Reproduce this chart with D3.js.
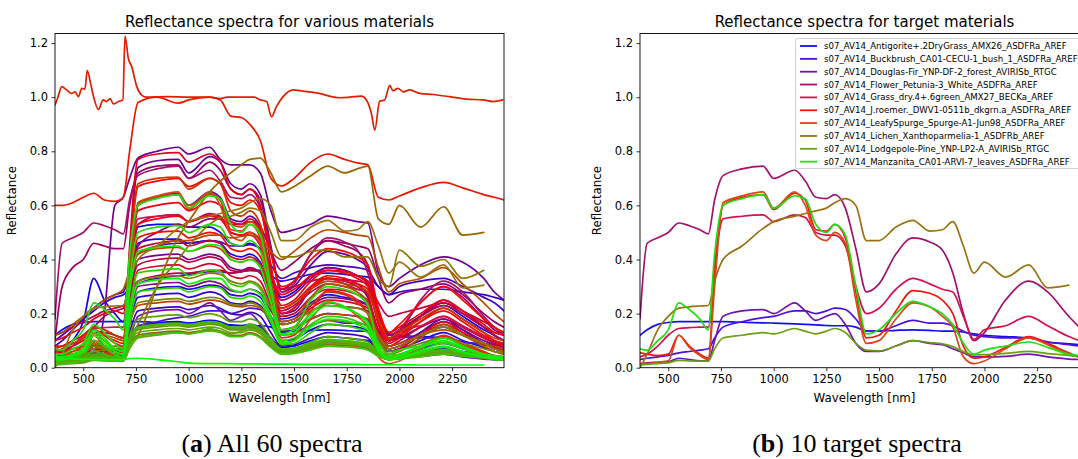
<!DOCTYPE html>
<html><head><meta charset="utf-8">
<script src="https://cdn.jsdelivr.net/npm/d3@7"></script>
<style>
body{margin:0;background:#fff;}
svg text{font-family:"DejaVu Sans",sans-serif;fill:#000;}
</style></head><body>
<svg id="c" width="1078" height="459"></svg>
<script>
// ---------- data ----------
const wavelengths = [366,400,450,500,550,600,650,690,720,760,850,950,1000,1100,1150,1200,1250,1290,1340,1390,1440,1500,1580,1660,1740,1800,1850,1900,1950,2000,2100,2210,2300,2400,2450,2496];
const xTicks = [500,750,1000,1250,1500,1750,2000,2250];
const yTicks = [0,0.2,0.4,0.6,0.8,1.0,1.2];

const targetNames = [
 "s07_AV14_Antigorite+.2DryGrass_AMX26_ASDFRa_AREF",
 "s07_AV14_Buckbrush_CA01-CECU-1_bush_1_ASDFRa_AREF",
 "s07_AV14_Douglas-Fir_YNP-DF-2_forest_AVIRISb_RTGC",
 "s07_AV14_Flower_Petunia-3_White_ASDFRa_AREF",
 "s07_AV14_Grass_dry.4+.6green_AMX27_BECKa_AREF",
 "s07_AV14_J.roemer._DWV1-0511b_dkgrn.a_ASDFRa_AREF",
 "s07_AV14_LeafySpurge_Spurge-A1-Jun98_ASDFRa_AREF",
 "s07_AV14_Lichen_Xanthoparmelia-1_ASDFRb_AREF",
 "s07_AV14_Lodgepole-Pine_YNP-LP2-A_AVIRISb_RTGC",
 "s07_AV14_Manzanita_CA01-ARVI-7_leaves_ASDFRa_AREF"
];
const targetIndex = [1,9,15,19,24,29,34,42,47,56];
const targetColors = ["#1010f2","#4a10e0","#7212b0","#a0126e","#d3124a","#f81212","#d8481a","#9a7212","#6ca014","#22dd12"];
const targetReflectance = [
 [0.12,0.14,0.16,0.167,0.17,0.17,0.17,0.17,0.17,0.17,0.168,0.166,0.165,0.162,0.16,0.158,0.156,0.155,0.155,0.15,0.135,0.135,0.138,0.14,0.138,0.135,0.135,0.132,0.125,0.12,0.115,0.11,0.095,0.088,0.085,0.08],
 [0.03,0.035,0.04,0.045,0.055,0.06,0.065,0.07,0.11,0.15,0.17,0.185,0.19,0.21,0.21,0.2,0.21,0.22,0.215,0.18,0.135,0.135,0.155,0.175,0.165,0.165,0.155,0.135,0.12,0.115,0.11,0.11,0.095,0.085,0.08,0.078],
 [0.015,0.018,0.02,0.022,0.035,0.03,0.025,0.025,0.1,0.19,0.21,0.215,0.2,0.24,0.21,0.175,0.19,0.2,0.16,0.09,0.06,0.06,0.08,0.1,0.09,0.085,0.07,0.055,0.04,0.04,0.042,0.05,0.04,0.032,0.03,0.028],
 [0.18,0.46,0.48,0.5,0.535,0.525,0.51,0.495,0.62,0.71,0.735,0.745,0.7,0.73,0.69,0.63,0.625,0.64,0.59,0.44,0.28,0.31,0.42,0.48,0.465,0.435,0.35,0.2,0.1,0.13,0.25,0.32,0.28,0.19,0.15,0.12],
 [0.04,0.05,0.08,0.12,0.145,0.148,0.15,0.15,0.38,0.55,0.56,0.565,0.54,0.565,0.555,0.5,0.49,0.49,0.45,0.3,0.2,0.22,0.29,0.33,0.31,0.29,0.28,0.19,0.105,0.14,0.155,0.19,0.155,0.115,0.1,0.09],
 [0.055,0.05,0.045,0.05,0.12,0.08,0.05,0.035,0.35,0.6,0.63,0.64,0.585,0.645,0.62,0.51,0.505,0.53,0.48,0.28,0.11,0.12,0.21,0.285,0.275,0.25,0.2,0.08,0.035,0.04,0.075,0.115,0.09,0.055,0.04,0.035],
 [0.015,0.015,0.02,0.025,0.12,0.075,0.045,0.03,0.3,0.61,0.635,0.65,0.59,0.65,0.6,0.49,0.47,0.5,0.46,0.25,0.09,0.1,0.18,0.24,0.225,0.19,0.15,0.04,0.015,0.025,0.07,0.11,0.085,0.05,0.04,0.035],
 [0.0,0.05,0.14,0.19,0.22,0.225,0.228,0.23,0.32,0.4,0.45,0.515,0.54,0.56,0.57,0.58,0.59,0.61,0.625,0.6,0.47,0.47,0.52,0.545,0.505,0.51,0.54,0.45,0.35,0.39,0.335,0.38,0.295,0.305,null,null],
 [0.01,0.012,0.015,0.018,0.027,0.025,0.024,0.024,0.07,0.11,0.12,0.13,0.125,0.145,0.135,0.125,0.135,0.145,0.13,0.09,0.065,0.062,0.08,0.1,0.093,0.088,0.078,0.06,0.047,0.048,0.053,0.06,0.052,0.045,0.04,0.038],
 [0.07,0.065,0.1,0.14,0.24,0.215,0.18,0.14,0.42,0.6,0.625,0.64,0.59,0.635,0.625,0.53,0.5,0.53,0.49,0.3,0.125,0.14,0.2,0.245,0.225,0.2,0.16,0.09,0.05,0.065,0.08,0.095,0.075,0.05,0.045,0.04]
];

// the remaining library spectra (left panel only)
const otherIndex = [0,2,3,4,5,6,7,8,10,11,12,13,14,16,17,18,20,21,22,23,25,26,27,28,30,31,32,35,36,37,38,39,40,41,43,44,45,46,48,49,50,51,52,53,54,55,57,58,59];
const otherReflectance = [
 [0.03,0.03,0.035,0.04,0.05,0.045,0.04,0.04,0.1,0.155,0.165,0.17,0.165,0.175,0.17,0.155,0.155,0.16,0.15,0.11,0.075,0.08,0.1,0.115,0.11,0.105,0.1,0.06,0.04,0.045,0.06,0.075,0.06,0.05,0.045,0.04],
 [0.05,0.06,0.1,0.17,0.33,0.25,0.2,0.17,0.35,0.52,0.53,0.53,0.52,0.52,0.5,0.46,0.45,0.46,0.44,0.34,0.26,0.28,0.34,0.37,0.36,0.34,0.32,0.2,0.12,0.14,0.19,0.23,0.19,0.14,0.12,0.1],
 [0.04,0.04,0.05,0.06,0.08,0.07,0.06,0.06,0.28,0.46,0.475,0.475,0.46,0.47,0.46,0.42,0.41,0.42,0.39,0.27,0.18,0.19,0.24,0.27,0.26,0.25,0.23,0.12,0.07,0.08,0.12,0.15,0.12,0.09,0.07,0.06],
 [0.02,0.025,0.03,0.035,0.06,0.05,0.04,0.04,0.17,0.28,0.295,0.3,0.29,0.305,0.3,0.27,0.265,0.275,0.26,0.19,0.13,0.14,0.18,0.2,0.195,0.19,0.175,0.1,0.06,0.07,0.1,0.13,0.1,0.075,0.06,0.055],
 [0.02,0.02,0.025,0.03,0.05,0.04,0.03,0.03,0.16,0.26,0.27,0.275,0.26,0.28,0.27,0.24,0.235,0.245,0.23,0.16,0.1,0.105,0.14,0.16,0.155,0.15,0.135,0.07,0.04,0.045,0.07,0.09,0.07,0.05,0.04,0.035],
 [0.1,0.12,0.15,0.18,0.21,0.24,0.26,0.27,0.29,0.31,0.33,0.34,0.345,0.355,0.355,0.35,0.355,0.36,0.36,0.34,0.32,0.33,0.345,0.35,0.345,0.34,0.335,0.3,0.27,0.28,0.29,0.29,0.28,0.27,0.26,0.25],
 [0.02,0.02,0.025,0.03,0.045,0.04,0.03,0.03,0.13,0.21,0.22,0.225,0.215,0.23,0.22,0.2,0.195,0.205,0.19,0.13,0.08,0.085,0.11,0.13,0.125,0.12,0.11,0.06,0.035,0.04,0.055,0.07,0.055,0.04,0.035,0.03],
 [0.08,0.1,0.14,0.18,0.22,0.25,0.27,0.28,0.35,0.42,0.45,0.46,0.46,0.47,0.465,0.45,0.45,0.455,0.44,0.38,0.33,0.35,0.37,0.38,0.375,0.37,0.36,0.3,0.27,0.3,0.32,0.33,0.3,0.26,0.24,0.21],
 [0.015,0.015,0.02,0.022,0.035,0.03,0.025,0.025,0.1,0.15,0.16,0.165,0.155,0.17,0.16,0.145,0.145,0.155,0.14,0.09,0.055,0.058,0.075,0.09,0.088,0.083,0.075,0.045,0.03,0.035,0.042,0.05,0.042,0.035,0.03,0.028],
 [0.02,0.02,0.025,0.03,0.06,0.045,0.03,0.03,0.3,0.6,0.63,0.645,0.6,0.65,0.63,0.55,0.54,0.56,0.52,0.35,0.2,0.21,0.29,0.33,0.32,0.3,0.26,0.12,0.06,0.07,0.13,0.18,0.14,0.09,0.07,0.06],
 [0.03,0.03,0.035,0.04,0.08,0.06,0.04,0.05,0.42,0.74,0.765,0.77,0.72,0.78,0.76,0.68,0.66,0.68,0.64,0.45,0.28,0.3,0.38,0.43,0.42,0.4,0.37,0.2,0.1,0.12,0.19,0.25,0.21,0.15,0.12,0.1],
 [0.02,0.02,0.025,0.03,0.05,0.2,0.6,0.63,0.7,0.775,0.8,0.815,0.79,0.815,0.77,0.75,0.75,0.75,0.72,0.58,0.5,0.51,0.53,0.56,0.55,0.54,0.535,0.35,0.3,0.33,0.38,0.41,0.39,0.33,0.28,0.25],
 [0.03,0.03,0.04,0.05,0.08,0.07,0.05,0.05,0.24,0.4,0.415,0.42,0.4,0.42,0.41,0.37,0.36,0.37,0.35,0.25,0.17,0.18,0.23,0.26,0.255,0.245,0.23,0.13,0.08,0.09,0.13,0.17,0.14,0.1,0.085,0.075],
 [0.02,0.02,0.03,0.04,0.07,0.06,0.04,0.04,0.18,0.3,0.31,0.315,0.3,0.32,0.31,0.285,0.28,0.29,0.275,0.21,0.16,0.17,0.21,0.23,0.225,0.22,0.21,0.14,0.1,0.11,0.15,0.18,0.15,0.11,0.095,0.085],
 [0.05,0.06,0.08,0.11,0.15,0.19,0.21,0.22,0.33,0.45,0.5,0.53,0.52,0.55,0.55,0.53,0.53,0.54,0.52,0.43,0.36,0.39,0.44,0.47,0.46,0.45,0.44,0.33,0.24,0.27,0.29,0.31,0.27,0.2,0.17,0.15],
 [0.1,0.3,0.37,0.4,0.46,0.45,0.44,0.44,0.6,0.72,0.745,0.75,0.7,0.76,0.73,0.66,0.64,0.66,0.62,0.44,0.29,0.32,0.42,0.47,0.45,0.43,0.38,0.2,0.1,0.14,0.24,0.3,0.26,0.18,0.14,0.12],
 [0.03,0.03,0.04,0.05,0.09,0.07,0.05,0.05,0.3,0.53,0.56,0.565,0.54,0.57,0.56,0.5,0.49,0.5,0.47,0.35,0.25,0.27,0.33,0.37,0.36,0.34,0.31,0.18,0.11,0.13,0.19,0.24,0.2,0.15,0.12,0.1],
 [0.05,0.06,0.08,0.1,0.13,0.13,0.12,0.11,0.27,0.38,0.4,0.405,0.39,0.41,0.4,0.36,0.355,0.365,0.35,0.27,0.21,0.23,0.28,0.31,0.3,0.29,0.275,0.18,0.12,0.14,0.19,0.23,0.2,0.15,0.13,0.12],
 [0.12,0.13,0.15,0.17,0.19,0.21,0.22,0.23,0.28,0.32,0.34,0.35,0.35,0.36,0.36,0.35,0.355,0.36,0.355,0.32,0.29,0.3,0.32,0.33,0.325,0.32,0.31,0.24,0.19,0.2,0.22,0.24,0.21,0.17,0.15,0.13],
 [0.04,0.04,0.05,0.06,0.1,0.08,0.06,0.05,0.25,0.44,0.46,0.47,0.45,0.47,0.46,0.41,0.4,0.41,0.38,0.27,0.19,0.2,0.26,0.29,0.285,0.27,0.25,0.14,0.08,0.1,0.15,0.19,0.15,0.11,0.09,0.08],
 [0.03,0.03,0.04,0.05,0.09,0.07,0.05,0.05,0.22,0.36,0.375,0.38,0.365,0.385,0.375,0.34,0.33,0.34,0.32,0.23,0.16,0.17,0.22,0.25,0.245,0.235,0.22,0.12,0.07,0.08,0.12,0.16,0.13,0.09,0.075,0.065],
 [0.04,0.04,0.045,0.05,0.1,0.07,0.05,0.06,0.45,0.77,0.79,0.795,0.76,0.79,0.76,0.66,0.64,0.66,0.6,0.38,0.2,0.22,0.3,0.34,0.33,0.31,0.27,0.12,0.05,0.07,0.12,0.17,0.13,0.08,0.06,0.05],
 [0.07,0.08,0.1,0.12,0.15,0.14,0.12,0.11,0.38,0.58,0.6,0.61,0.58,0.615,0.6,0.54,0.53,0.55,0.51,0.36,0.23,0.25,0.32,0.36,0.35,0.33,0.3,0.16,0.09,0.11,0.17,0.22,0.18,0.13,0.1,0.09],
 [0.1,0.11,0.13,0.15,0.18,0.2,0.21,0.2,0.4,0.53,0.55,0.56,0.54,0.56,0.55,0.5,0.49,0.5,0.47,0.35,0.27,0.29,0.34,0.36,0.355,0.34,0.32,0.2,0.13,0.15,0.2,0.25,0.21,0.16,0.13,0.12],
 [0.06,0.06,0.07,0.08,0.14,0.12,0.09,0.08,0.4,0.67,0.69,0.7,0.67,0.7,0.68,0.61,0.6,0.62,0.58,0.42,0.3,0.32,0.4,0.44,0.43,0.41,0.38,0.22,0.13,0.16,0.24,0.3,0.25,0.18,0.15,0.13],
 [0.08,0.08,0.09,0.1,0.14,0.12,0.1,0.09,0.3,0.48,0.5,0.505,0.48,0.5,0.49,0.44,0.43,0.44,0.41,0.3,0.22,0.24,0.3,0.33,0.32,0.31,0.29,0.17,0.1,0.12,0.17,0.21,0.17,0.12,0.1,0.08],
 [0.6,0.6,0.61,0.63,0.645,0.62,0.615,0.63,0.8,0.98,1.0,0.978,0.99,1.0,0.99,0.93,0.925,0.9,0.84,0.7,0.672,0.7,0.76,0.79,0.77,0.757,0.75,0.63,0.62,0.635,0.665,0.685,0.665,0.64,0.63,0.62],
 [0.03,0.03,0.035,0.04,0.09,0.06,0.04,0.04,0.4,0.68,0.7,0.705,0.66,0.7,0.68,0.58,0.56,0.58,0.53,0.32,0.14,0.15,0.23,0.28,0.27,0.24,0.2,0.07,0.03,0.04,0.08,0.12,0.09,0.06,0.045,0.04],
 [0.06,0.07,0.09,0.11,0.15,0.14,0.12,0.11,0.3,0.42,0.44,0.445,0.43,0.45,0.44,0.4,0.39,0.4,0.38,0.29,0.22,0.24,0.29,0.32,0.31,0.3,0.28,0.18,0.11,0.13,0.18,0.22,0.18,0.13,0.11,0.1],
 [0.04,0.045,0.06,0.08,0.12,0.12,0.11,0.1,0.17,0.23,0.24,0.245,0.235,0.25,0.245,0.23,0.225,0.23,0.22,0.18,0.14,0.15,0.18,0.2,0.195,0.19,0.18,0.12,0.08,0.09,0.12,0.14,0.12,0.09,0.08,0.07],
 [0.12,0.13,0.16,0.19,0.22,0.25,0.27,0.29,0.36,0.42,0.45,0.47,0.47,0.49,0.49,0.48,0.485,0.49,0.48,0.43,0.4,0.43,0.48,0.51,0.5,0.49,0.485,0.37,0.28,0.31,0.33,0.37,0.31,0.24,0.2,0.17],
 [0.05,0.05,0.06,0.07,0.13,0.1,0.07,0.06,0.35,0.61,0.63,0.64,0.6,0.64,0.62,0.53,0.52,0.54,0.5,0.32,0.17,0.18,0.26,0.31,0.3,0.28,0.24,0.1,0.05,0.06,0.11,0.16,0.12,0.08,0.06,0.05],
 [0.02,0.02,0.025,0.03,0.04,0.038,0.034,0.034,0.09,0.12,0.13,0.135,0.13,0.14,0.135,0.12,0.12,0.13,0.115,0.08,0.055,0.057,0.072,0.085,0.082,0.078,0.072,0.046,0.032,0.035,0.044,0.053,0.046,0.038,0.034,0.031],
 [0.03,0.04,0.05,0.06,0.07,0.075,0.08,0.08,0.09,0.12,0.3,0.48,0.54,0.65,0.69,0.72,0.75,0.77,0.775,0.72,0.65,0.67,0.71,0.745,0.72,0.735,0.745,0.55,0.53,0.6,0.52,0.595,0.49,0.5,null,null],
 [0.02,0.03,0.04,0.05,0.06,0.065,0.07,0.075,0.1,0.16,0.3,0.4,0.45,0.53,0.555,0.56,0.575,0.59,0.58,0.5,0.41,0.41,0.43,0.435,0.41,0.41,0.41,0.33,0.3,0.435,0.375,0.4,0.33,0.36,null,null],
 [0.03,0.03,0.04,0.05,0.08,0.07,0.05,0.05,0.2,0.32,0.335,0.34,0.33,0.35,0.345,0.32,0.31,0.32,0.3,0.22,0.16,0.17,0.21,0.23,0.225,0.22,0.2,0.12,0.07,0.08,0.12,0.15,0.12,0.09,0.07,0.06],
 [0.03,0.035,0.045,0.06,0.09,0.08,0.07,0.065,0.16,0.24,0.25,0.255,0.245,0.26,0.255,0.235,0.23,0.24,0.225,0.17,0.12,0.125,0.155,0.175,0.17,0.165,0.155,0.1,0.06,0.065,0.09,0.11,0.09,0.07,0.06,0.055],
 [0.02,0.02,0.025,0.03,0.04,0.035,0.03,0.03,0.1,0.14,0.15,0.155,0.15,0.16,0.155,0.14,0.14,0.15,0.135,0.09,0.06,0.062,0.08,0.095,0.092,0.088,0.08,0.05,0.035,0.038,0.048,0.058,0.05,0.04,0.036,0.033],
 [0.02,0.02,0.025,0.03,0.045,0.04,0.03,0.03,0.12,0.18,0.19,0.195,0.185,0.2,0.19,0.17,0.17,0.18,0.165,0.11,0.07,0.072,0.095,0.115,0.11,0.105,0.095,0.055,0.035,0.04,0.05,0.065,0.055,0.045,0.04,0.035],
 [0.015,0.015,0.02,0.025,0.035,0.03,0.025,0.025,0.09,0.13,0.14,0.145,0.14,0.15,0.145,0.13,0.13,0.14,0.125,0.085,0.055,0.057,0.075,0.09,0.087,0.083,0.075,0.047,0.032,0.035,0.045,0.055,0.047,0.038,0.034,0.031],
 [0.025,0.025,0.03,0.035,0.05,0.045,0.035,0.035,0.1,0.145,0.155,0.16,0.155,0.165,0.16,0.145,0.145,0.155,0.14,0.095,0.065,0.067,0.085,0.1,0.097,0.093,0.085,0.055,0.038,0.042,0.052,0.062,0.054,0.044,0.04,0.036],
 [0.03,0.03,0.035,0.04,0.06,0.05,0.04,0.04,0.11,0.15,0.16,0.165,0.16,0.17,0.165,0.15,0.15,0.16,0.145,0.1,0.07,0.072,0.09,0.105,0.1,0.096,0.088,0.058,0.04,0.044,0.055,0.066,0.057,0.047,0.042,0.038],
 [0.015,0.015,0.02,0.025,0.04,0.035,0.025,0.025,0.08,0.115,0.125,0.13,0.125,0.135,0.13,0.115,0.115,0.125,0.11,0.075,0.05,0.052,0.066,0.08,0.077,0.073,0.066,0.042,0.03,0.032,0.04,0.05,0.043,0.035,0.031,0.028],
 [0.04,0.04,0.05,0.07,0.13,0.1,0.07,0.06,0.22,0.35,0.36,0.365,0.34,0.36,0.355,0.31,0.3,0.315,0.29,0.19,0.1,0.11,0.16,0.19,0.185,0.17,0.15,0.07,0.035,0.04,0.065,0.09,0.07,0.045,0.04,0.035],
 [0.03,0.03,0.04,0.05,0.1,0.08,0.05,0.04,0.17,0.28,0.29,0.295,0.28,0.3,0.295,0.26,0.255,0.265,0.245,0.17,0.085,0.09,0.13,0.16,0.155,0.145,0.13,0.06,0.03,0.035,0.055,0.075,0.055,0.04,0.03,0.028],
 [0.05,0.05,0.07,0.09,0.16,0.13,0.09,0.07,0.32,0.5,0.52,0.525,0.5,0.53,0.52,0.46,0.45,0.47,0.43,0.28,0.14,0.15,0.25,0.3,0.29,0.27,0.23,0.08,0.04,0.05,0.08,0.11,0.08,0.05,0.04,0.035],
 [0.04,0.04,0.05,0.07,0.14,0.11,0.07,0.06,0.28,0.43,0.445,0.45,0.43,0.455,0.45,0.4,0.39,0.4,0.37,0.24,0.12,0.13,0.19,0.23,0.22,0.2,0.17,0.07,0.035,0.045,0.075,0.1,0.075,0.05,0.04,0.035],
 [0.03,0.03,0.045,0.06,0.12,0.09,0.06,0.05,0.2,0.31,0.325,0.33,0.31,0.33,0.33,0.29,0.28,0.29,0.27,0.18,0.09,0.1,0.15,0.18,0.175,0.16,0.14,0.065,0.03,0.035,0.06,0.08,0.06,0.04,0.035,0.03],
 [0.035,0.033,0.032,0.031,0.03,0.03,0.03,0.03,0.034,0.035,0.03,0.022,0.017,0.015,0.015,0.015,0.014,0.014,0.014,0.013,0.013,0.013,0.012,0.012,0.012,0.012,0.011,0.011,0.011,0.011,0.01,0.01,0.01,0.01,null,null]
];

// the spectrum near 1.0 (library index 33), sampled more finely
const topIndex = 33;
const topWavelengths = [366,380,398,421,445,461,477,493,508,519,535,548,572,595,611,627,643,667,688,698,714,730,754,777,800,900,1000,1100,1150,1184,1250,1311,1340,1370,1393,1417,1448,1496,1527,1607,1717,1764,1819,1843,1867,1883,1906,1930,1954,1969,1993,2017,2049,2096,2159,2238,2317,2396,2443,2490];
const topReflectance = [0.971,1.0,1.039,1.027,1.014,1.02,1.002,1.033,1.03,1.098,1.05,1.005,0.955,0.99,0.984,0.995,0.975,0.984,0.99,1.226,1.143,1.113,1.039,1.008,1.0,1.002,1.0,1.0,0.995,1.0,1.0,1.0,0.99,0.984,0.928,0.966,1.002,1.027,1.024,1.016,0.998,1.0,1.004,0.99,0.94,0.878,0.985,0.99,1.044,1.024,1.033,1.02,1.027,1.014,1.01,1.002,0.993,0.99,0.984,0.99];

// ---------- drawing ----------
function brg(t){
  let r,g,b;
  if(t<=0.5){r=2*t;g=0;b=1-2*t;} else {r=2-2*t;g=2*t-1;b=0;}
  return d3.rgb(r*255,g*255,b*255).formatHex();
}

const svg = d3.select("#c");
svg.append("rect").attr("width",1078).attr("height",459).attr("fill","#fff");

const yTop = 33.5, yBot = 367.7;
const y = d3.scaleLinear().domain([0,1.2355]).range([yBot,yTop]);

function makePanel(x0, x1, title, idPrefix){
  const x = d3.scaleLinear().domain([366,2496]).range([x0,x1]);
  const g = svg.append("g");
  svg.append("defs").append("clipPath").attr("id",idPrefix+"clip")
    .append("rect").attr("x",x0).attr("y",yTop).attr("width",x1-x0).attr("height",yBot-yTop);
  const plot = g.append("g").attr("clip-path","url(#"+idPrefix+"clip)");
  const ax = g.append("g").attr("transform",`translate(0,${yBot})`)
    .call(d3.axisBottom(x).tickValues(xTicks).tickFormat(d3.format("d")).tickSize(3.5).tickPadding(3.5));
  const ay = g.append("g").attr("transform",`translate(${x0},0)`)
    .call(d3.axisLeft(y).tickValues(yTicks).tickFormat(d3.format(".1f")).tickSize(3.5).tickPadding(3.5));
  [ax,ay].forEach(a=>{
    a.select(".domain").remove();
    a.selectAll(".tick line").attr("stroke","#000").attr("stroke-width",0.8);
    a.selectAll(".tick text").style("font-size","11.5px").attr("fill","#000");
  });
  g.append("text").attr("x",(x0+x1)/2).attr("y",27).attr("text-anchor","middle")
    .style("font-size","15px").text(title);
  g.append("text").attr("x",(x0+x1)/2).attr("y",402).attr("text-anchor","middle")
    .style("font-size","11.8px").text("Wavelength [nm]");
  g.append("text").attr("transform",`translate(${x0-39},${(yTop+yBot)/2}) rotate(-90)`)
    .attr("text-anchor","middle").style("font-size","11.8px").text("Reflectance");
  return {x, plot, g, x0, x1};
}

function drawLine(panel, wl, vals, color){
  const pts = wl.map((w,i)=>[w,vals[i]]);
  const line = d3.line().defined(d=>d[1]!=null)
    .x(d=>panel.x(d[0])).y(d=>y(d[1])).curve(d3.curveMonotoneX);
  panel.plot.append("path").attr("d",line(pts)).attr("fill","none")
    .attr("stroke",color).attr("stroke-width",1.7)
    .attr("stroke-linejoin","round").attr("stroke-linecap","round");
}

function frame(panel){
  panel.g.append("rect").attr("x",panel.x0).attr("y",yTop)
    .attr("width",panel.x1-panel.x0).attr("height",yBot-yTop)
    .attr("fill","none").attr("stroke","#000").attr("stroke-width",0.9);
}

// Left panel: all 60 spectra in library order
const left = makePanel(55, 504, "Reflectance spectra for various materials", "L");
const allSeries = [];
targetIndex.forEach((k,i)=>allSeries.push({k, wl:wavelengths, v:targetReflectance[i], c:targetColors[i]}));
otherIndex.forEach((k,i)=>allSeries.push({k, wl:wavelengths, v:otherReflectance[i], c:brg(k/59)}));
allSeries.push({k:topIndex, wl:topWavelengths, v:topReflectance, c:brg(topIndex/59)});
allSeries.sort((a,b)=>a.k-b.k).forEach(s=>drawLine(left, s.wl, s.v, s.c));
frame(left);

// Right panel: 10 targets
const right = makePanel(640, 1089, "Reflectance spectra for target materials", "R");
targetReflectance.forEach((v,i)=>drawLine(right, wavelengths, v, targetColors[i]));
frame(right);

// legend
const lg = svg.append("g");
lg.append("rect").attr("x",795.5).attr("y",38.5).attr("width",300).attr("height",130)
  .attr("rx",2).attr("fill","#fff").attr("fill-opacity",0.85).attr("stroke","#cccccc").attr("stroke-width",0.9);
targetNames.forEach((n,i)=>{
  const yy = 46 + i*12.85;
  lg.append("line").attr("x1",800).attr("x2",817).attr("y1",yy).attr("y2",yy)
    .attr("stroke",targetColors[i]).attr("stroke-width",1.8);
  lg.append("text").attr("x",824).attr("y",yy+3).style("font-size","8.6px").text(n);
});

// captions
function caption(cx, letter, rest){
  const t = svg.append("text").attr("x",cx).attr("y",452).attr("text-anchor","middle")
    .style("font-family","'Liberation Serif','DejaVu Serif',serif").style("font-size","26px");
  t.append("tspan").text("(");
  t.append("tspan").style("font-weight","bold").text(letter);
  t.append("tspan").text(") "+rest);
}
caption(272, "a", "All 60 spectra");
caption(857, "b", "10 target spectra");
</script>
</body></html>
